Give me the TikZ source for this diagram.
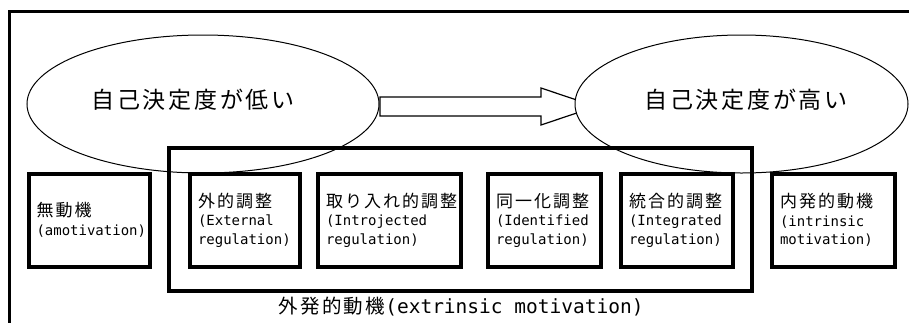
\documentclass[tikz,border=0pt]{standalone}
\usepackage{fontspec}
\usepackage{tikz}
\usetikzlibrary{shapes.geometric}
\newfontfamily\jpfont[LetterSpace=12]{Noto Sans CJK JP}
\newfontfamily\latfont{DejaVu Sans Mono}

\begin{document}
\begin{tikzpicture}[x=1pt, y=-1pt,
			regbox/.style={draw, line width=4pt, align=left, inner xsep=8pt, minimum height=93pt, anchor=center, font=\fontsize{17}{18.5}\selectfont},
			selfdet/.style={draw, ellipse, line width=1pt, fill=white, minimum height=138pt, inner sep=0pt},
			bigtext/.style={font=\jpfont\fontsize{23}{26}\selectfont}
		]
		\useasboundingbox (0,0) rectangle (909,322);
		\clip (0,0) rectangle (909,322);
		\draw[line width=3pt] (9.5,11) rectangle (930,340);

		\draw[line width=1.2pt, fill=white] (380,97) -- (541,97) -- (541,88) -- (596,106.5) -- (541,125) -- (541,116) -- (380,116) -- cycle;

		\node[selfdet, minimum width=352pt] (low) at (203,104) {};
		\node[selfdet, minimum width=333pt] (high) at (741.5,104) {};
		\node[bigtext] (lowtxt) at (193,100) {自己決定度が低い};
		\node[bigtext] (hightxt) at (746,100) {自己決定度が高い};

		\node[draw, line width=4.5pt, minimum width=583pt, minimum height=143pt] (extr) at (460.5,219.5) {};
		\node[font=\fontsize{20}{22}\selectfont] (extrtxt) at (461,307) {\jpfont\fontsize{19.5}{22}\selectfont 外発的動機\latfont\fontsize{19.5}{22}\selectfont(extrinsic motivation)};

		\node[regbox, text width=105pt] (amot) at (89,220) {\jpfont 無動機\\\latfont\fontsize{14}{18.5}\selectfont(amotivation)};
		\node[regbox, text width=94pt] (ext) at (245,220) {\jpfont 外的調整\\\latfont\fontsize{14}{18.5}\selectfont(External\\regulation)};
		\node[regbox, text width=127pt] (intro) at (389.5,220) {\jpfont 取り入れ的調整\\\latfont\fontsize{14}{18.5}\selectfont(Introjected\\regulation)};
		\node[regbox, text width=97pt] (ident) at (544.5,220) {\jpfont 同一化調整\\\latfont\fontsize{14}{18.5}\selectfont(Identified\\regulation)};
		\node[regbox, text width=96pt] (integ) at (677,220) {\jpfont 統合的調整\\\latfont\fontsize{14}{18.5}\selectfont(Integrated\\regulation)};
		\node[regbox, text width=107pt] (intr) at (833.5,220) {\jpfont 内発的動機\\\latfont\fontsize{14}{18.5}\selectfont(intrinsic\\motivation)};
	\end{tikzpicture}
\end{document}
